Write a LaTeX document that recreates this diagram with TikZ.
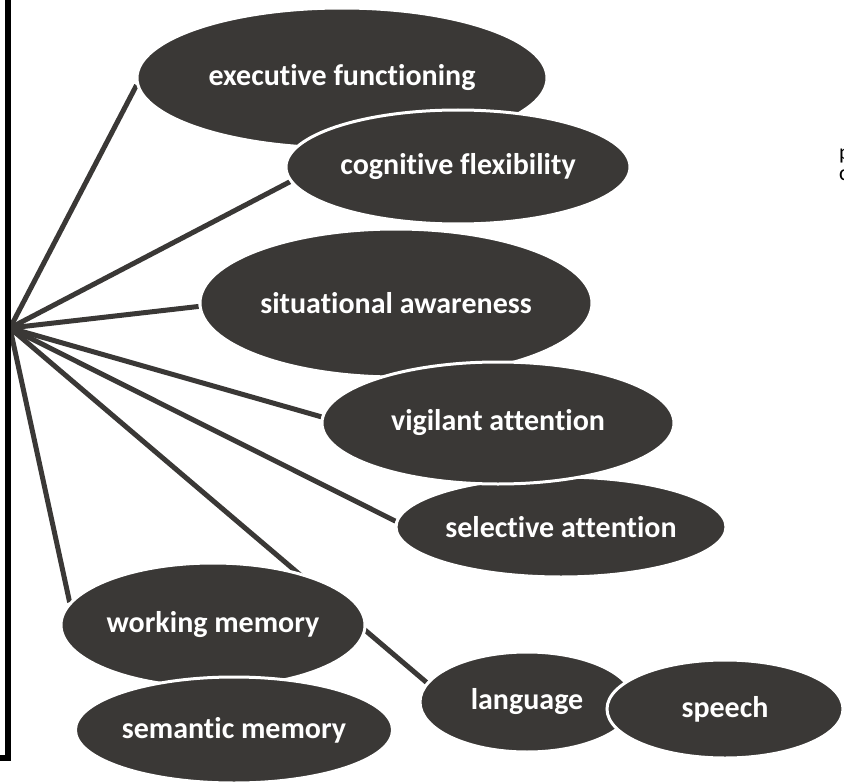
\documentclass[tikz,border=0pt]{standalone}
\usepackage{fontspec}
\setmainfont{Carlito}[Ligatures={NoCommon}]
\usetikzlibrary{shapes.geometric}
\definecolor{bubblegray}{RGB}{58,56,54}
\pgfdeclarelayer{back}
\pgfsetlayers{back,main}
\tikzset{
  bubble/.style={ellipse, fill=bubblegray, draw=white, line width=3pt,
    inner sep=0pt, text=white, font=\fontsize{30}{36}\selectfont\bfseries},
  spoke/.style={draw=bubblegray, line width=5pt},
  frameline/.style={draw=black, line width=5.5pt},
  sidenote/.style={anchor=base west, inner sep=0pt, text=black,
    font=\fontsize{22}{26}\selectfont}
}
\begin{document}
\begin{tikzpicture}[x=1pt,y=-1pt]
\useasboundingbox (0,0) rectangle (844,784);

% frame corner on the left
\draw[frameline] (8,-6) -- (8,758) -- (-6,758);

\coordinate (hub) at (10,328);

% concept bubbles (later ones lie on top)
\node[bubble, minimum width=410pt, minimum height=140pt] (exec) at (342,78) {executive functioning};
\node[bubble, minimum width=344pt, minimum height=114pt] (cog) at (458,167) {cognitive flexibility};
\node[bubble, minimum width=392pt, minimum height=148pt] (sit) at (396,303) {situational awareness};
\node[bubble, minimum width=330pt, minimum height=100pt] (sel) at (561,527) {selective attention};
\node[bubble, minimum width=352pt, minimum height=122pt] (vig) at (498,423) {vigilant attention};
\node[bubble, minimum width=304pt, minimum height=124pt] (wm) at (213,625) {working memory};
\node[bubble, minimum width=304pt, minimum height=106pt] (sem) at (234,730) {semantic memory};
\node[bubble, minimum width=214pt, minimum height=100pt] (lang) at (527,702) {language};
\node[bubble, minimum width=236pt, minimum height=98pt] (speech) at (725,709) {speech};

% spokes from the hub, drawn underneath the bubbles
\begin{pgfonlayer}{back}
\draw[spoke] (hub) -- (exec.182);
\draw[spoke] (hub) -- (cog.185);
\draw[spoke] (hub) -- (sit.181);
\draw[spoke] (hub) -- (vig.178);
\draw[spoke] (hub) -- (sel.178);
\draw[spoke] (hub) -- (wm.171);
\draw[spoke] (hub) -- (lang.169);
\end{pgfonlayer}

% partly visible note at the right edge
\node[sidenote] (notep) at (839,159) {p};
\node[sidenote] (notec) at (839,180) {c};
\end{tikzpicture}
\end{document}
